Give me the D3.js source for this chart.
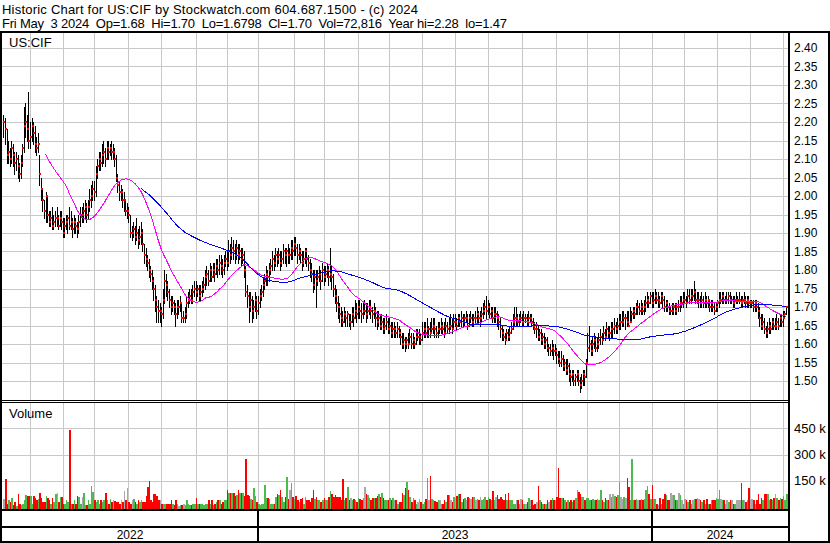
<!DOCTYPE html>
<html><head><meta charset="utf-8">
<script src="https://cdn.jsdelivr.net/npm/d3@7"></script>
<style>
html,body{margin:0;padding:0;background:#fff;}
svg{display:block;font-family:"Liberation Sans",Arial,sans-serif;}
</style></head><body>
<svg id="chart" width="830" height="543"></svg>
<script>
const titleLines = [
  "Historic Chart for US:CIF by Stockwatch.com 604.687.1500 - (c) 2024",
  "Fri May  3 2024  Op=1.68  Hi=1.70  Lo=1.6798  Cl=1.70  Vol=72,816  Year hi=2.28  lo=1.47"
];
const symbolLabel = "US:CIF";
const volumeLabel = "Volume";

const closes = [
2.20,2.18,2.11,2.12,2.10,2.13,2.11,2.09,2.10,2.08,
2.06,2.09,2.13,2.19,2.20,2.18,2.15,2.16,2.19,2.17,
2.14,2.13,2.14,2.06,2.02,1.99,1.96,2.00,1.95,1.93,
1.94,1.92,1.93,1.94,1.94,1.92,1.94,1.93,1.90,1.92,
1.93,1.94,1.92,1.93,1.91,1.93,1.92,1.91,1.93,1.95,
1.95,1.96,1.97,1.95,1.97,1.99,2.00,2.02,2.01,2.06,
2.08,2.10,2.09,2.11,2.12,2.10,2.13,2.12,2.13,2.12,
2.12,2.10,2.05,2.03,2.01,2.01,1.99,1.99,1.96,1.96,
1.95,1.90,1.90,1.91,1.89,1.90,1.88,1.89,1.90,1.87,
1.84,1.83,1.82,1.80,1.79,1.77,1.75,1.72,1.70,1.69,
1.69,1.68,1.72,1.77,1.76,1.74,1.72,1.70,1.71,1.70,
1.68,1.70,1.70,1.71,1.67,1.67,1.68,1.71,1.72,1.73,
1.72,1.74,1.75,1.74,1.75,1.73,1.74,1.75,1.76,1.78,
1.79,1.77,1.80,1.78,1.80,1.79,1.81,1.80,1.82,1.81,
1.80,1.82,1.83,1.82,1.85,1.84,1.86,1.85,1.84,1.86,
1.84,1.85,1.83,1.84,1.80,1.74,1.73,1.70,1.72,1.69,
1.70,1.72,1.69,1.71,1.73,1.74,1.76,1.77,1.79,1.78,
1.80,1.81,1.83,1.82,1.84,1.83,1.84,1.82,1.83,1.85,
1.84,1.85,1.84,1.84,1.86,1.85,1.87,1.86,1.84,1.85,
1.84,1.82,1.83,1.85,1.83,1.82,1.80,1.79,1.76,1.78,
1.77,1.78,1.79,1.77,1.80,1.78,1.79,1.80,1.78,1.79,
1.78,1.75,1.73,1.71,1.70,1.68,1.67,1.66,1.68,1.67,
1.68,1.66,1.66,1.68,1.67,1.69,1.68,1.70,1.69,1.68,
1.69,1.69,1.68,1.69,1.70,1.69,1.68,1.69,1.67,1.66,
1.67,1.65,1.66,1.64,1.65,1.66,1.64,1.65,1.63,1.64,
1.64,1.63,1.64,1.63,1.62,1.60,1.61,1.60,1.61,1.60,
1.62,1.60,1.61,1.60,1.62,1.62,1.62,1.61,1.63,1.64,
1.63,1.64,1.64,1.63,1.64,1.65,1.64,1.63,1.64,1.64,
1.65,1.64,1.63,1.65,1.64,1.65,1.65,1.64,1.66,1.66,
1.65,1.67,1.66,1.67,1.66,1.67,1.67,1.65,1.67,1.67,
1.66,1.67,1.67,1.68,1.67,1.67,1.68,1.69,1.70,1.69,
1.70,1.68,1.69,1.67,1.68,1.68,1.67,1.66,1.64,1.63,
1.62,1.61,1.63,1.62,1.63,1.64,1.66,1.67,1.67,1.66,
1.67,1.67,1.66,1.67,1.67,1.66,1.67,1.67,1.66,1.65,
1.64,1.64,1.62,1.63,1.61,1.62,1.60,1.61,1.59,1.59,
1.58,1.59,1.58,1.58,1.57,1.56,1.55,1.56,1.54,1.55,
1.53,1.54,1.52,1.51,1.52,1.50,1.51,1.52,1.50,1.49,
1.50,1.52,1.51,1.55,1.59,1.60,1.58,1.60,1.61,1.59,
1.60,1.61,1.62,1.61,1.63,1.62,1.64,1.63,1.63,1.64,
1.64,1.65,1.64,1.65,1.66,1.66,1.66,1.67,1.67,1.66,
1.65,1.66,1.68,1.69,1.68,1.70,1.70,1.69,1.70,1.69,
1.70,1.71,1.72,1.71,1.73,1.71,1.72,1.73,1.72,1.72,
1.71,1.73,1.72,1.70,1.71,1.70,1.69,1.69,1.69,1.70,
1.69,1.70,1.70,1.71,1.71,1.72,1.72,1.71,1.73,1.72,
1.73,1.73,1.74,1.72,1.72,1.72,1.71,1.72,1.71,1.72,
1.71,1.72,1.70,1.71,1.70,1.69,1.70,1.71,1.72,1.72,
1.73,1.72,1.72,1.72,1.73,1.72,1.72,1.71,1.72,1.72,
1.72,1.72,1.71,1.72,1.72,1.71,1.72,1.71,1.71,1.71,
1.70,1.71,1.70,1.69,1.67,1.65,1.66,1.64,1.63,1.64,
1.65,1.64,1.66,1.65,1.65,1.66,1.65,1.67,1.66,1.67,1.68,1.70
];
const highs = [
2.22,2.21,2.18,2.15,2.13,2.15,2.14,2.12,2.12,2.11,
2.09,2.11,2.14,2.24,2.25,2.22,2.28,2.20,2.21,2.20,
2.19,2.16,2.17,2.11,2.05,2.02,1.99,2.01,2.00,1.96,
1.96,1.97,1.95,1.96,1.97,1.95,1.96,1.96,1.94,1.94,
1.95,1.95,1.97,1.96,1.94,1.95,1.94,1.93,1.95,1.97,
1.97,1.98,1.99,1.98,1.99,2.02,2.03,2.04,2.04,2.08,
2.10,2.12,2.12,2.14,2.15,2.13,2.15,2.15,2.14,2.15,
2.14,2.13,2.11,2.06,2.04,2.03,2.02,2.01,1.99,1.98,
1.97,1.95,1.92,1.93,1.92,1.94,1.91,1.92,1.93,1.91,
1.87,1.86,1.84,1.83,1.81,1.80,1.78,1.76,1.73,1.72,
1.71,1.70,1.75,1.80,1.79,1.77,1.75,1.73,1.73,1.72,
1.71,1.72,1.72,1.73,1.71,1.69,1.70,1.73,1.74,1.75,
1.75,1.76,1.77,1.77,1.76,1.76,1.76,1.77,1.78,1.80,
1.81,1.80,1.82,1.81,1.82,1.82,1.83,1.83,1.84,1.84,
1.83,1.84,1.85,1.85,1.88,1.87,1.89,1.88,1.87,1.88,
1.87,1.87,1.86,1.86,1.85,1.81,1.76,1.74,1.74,1.73,
1.72,1.74,1.73,1.73,1.75,1.76,1.78,1.79,1.81,1.80,
1.82,1.83,1.85,1.84,1.86,1.85,1.86,1.85,1.85,1.87,
1.86,1.86,1.87,1.86,1.88,1.88,1.89,1.89,1.87,1.87,
1.86,1.85,1.85,1.86,1.86,1.84,1.83,1.82,1.80,1.80,
1.80,1.80,1.81,1.80,1.82,1.81,1.81,1.82,1.81,1.86,
1.81,1.79,1.76,1.75,1.73,1.71,1.70,1.69,1.70,1.69,
1.69,1.68,1.68,1.70,1.70,1.72,1.71,1.72,1.72,1.71,
1.71,1.72,1.71,1.71,1.72,1.72,1.70,1.71,1.70,1.69,
1.69,1.68,1.68,1.67,1.67,1.68,1.67,1.67,1.66,1.66,
1.66,1.65,1.66,1.65,1.64,1.63,1.63,1.62,1.62,1.63,
1.64,1.63,1.63,1.62,1.64,1.64,1.64,1.63,1.66,1.66,
1.66,1.67,1.65,1.66,1.67,1.67,1.67,1.65,1.66,1.66,
1.67,1.66,1.66,1.67,1.66,1.67,1.68,1.67,1.68,1.68,
1.67,1.68,1.68,1.69,1.68,1.68,1.69,1.68,1.68,1.69,
1.68,1.68,1.69,1.70,1.69,1.69,1.70,1.71,1.72,1.73,
1.72,1.71,1.70,1.70,1.70,1.70,1.69,1.68,1.67,1.65,
1.64,1.63,1.64,1.64,1.65,1.66,1.68,1.70,1.70,1.68,
1.68,1.69,1.68,1.69,1.68,1.68,1.69,1.68,1.68,1.67,
1.66,1.66,1.65,1.64,1.64,1.63,1.63,1.62,1.62,1.60,
1.60,1.61,1.60,1.60,1.59,1.58,1.58,1.58,1.57,1.56,
1.56,1.56,1.55,1.53,1.53,1.53,1.52,1.53,1.53,1.51,
1.52,1.53,1.53,1.56,1.63,1.65,1.61,1.62,1.63,1.62,
1.62,1.63,1.64,1.63,1.65,1.64,1.66,1.65,1.65,1.66,
1.66,1.67,1.66,1.67,1.68,1.68,1.69,1.69,1.68,1.69,
1.69,1.70,1.69,1.70,1.70,1.71,1.72,1.71,1.72,1.71,
1.72,1.73,1.74,1.73,1.74,1.74,1.74,1.75,1.74,1.74,
1.73,1.74,1.74,1.73,1.72,1.72,1.71,1.70,1.71,1.71,
1.71,1.71,1.72,1.73,1.73,1.74,1.74,1.73,1.75,1.75,
1.75,1.75,1.77,1.75,1.74,1.74,1.73,1.74,1.73,1.74,
1.73,1.73,1.72,1.72,1.72,1.71,1.71,1.72,1.74,1.74,
1.74,1.74,1.73,1.74,1.74,1.74,1.73,1.73,1.73,1.74,
1.73,1.74,1.73,1.73,1.74,1.73,1.73,1.73,1.72,1.72,
1.72,1.72,1.72,1.71,1.70,1.68,1.68,1.67,1.65,1.66,
1.67,1.66,1.67,1.67,1.67,1.68,1.67,1.68,1.68,1.69,1.69,1.70
];
const lows = [
2.16,2.14,2.09,2.09,2.08,2.09,2.08,2.06,2.07,2.05,
2.04,2.05,2.08,2.12,2.16,2.15,2.13,2.13,2.15,2.14,
2.12,2.11,2.12,2.03,1.99,1.96,1.94,1.93,1.93,1.92,
1.92,1.91,1.91,1.92,1.92,1.91,1.92,1.91,1.89,1.89,
1.91,1.90,1.91,1.91,1.89,1.90,1.90,1.89,1.90,1.92,
1.93,1.93,1.94,1.93,1.94,1.96,1.97,1.99,1.99,2.00,
2.05,2.07,2.07,2.08,2.09,2.08,2.10,2.10,2.11,2.10,
2.10,2.08,2.04,2.01,1.99,1.99,1.97,1.96,1.95,1.94,
1.93,1.89,1.88,1.89,1.87,1.88,1.86,1.87,1.87,1.85,
1.82,1.81,1.80,1.78,1.77,1.75,1.72,1.69,1.66,1.66,
1.66,1.65,1.67,1.71,1.73,1.72,1.70,1.68,1.69,1.68,
1.65,1.67,1.68,1.69,1.66,1.66,1.66,1.67,1.70,1.71,
1.71,1.71,1.73,1.72,1.73,1.72,1.72,1.73,1.74,1.75,
1.76,1.76,1.77,1.77,1.78,1.77,1.79,1.78,1.79,1.79,
1.78,1.79,1.81,1.80,1.81,1.82,1.83,1.83,1.82,1.83,
1.82,1.83,1.81,1.82,1.78,1.73,1.70,1.66,1.69,1.66,
1.67,1.69,1.67,1.68,1.70,1.72,1.73,1.75,1.76,1.76,
1.77,1.79,1.80,1.80,1.81,1.81,1.82,1.80,1.81,1.82,
1.82,1.81,1.82,1.82,1.83,1.83,1.84,1.84,1.82,1.83,
1.82,1.80,1.81,1.82,1.81,1.80,1.78,1.77,1.74,1.75,
1.70,1.76,1.77,1.75,1.77,1.76,1.77,1.78,1.76,1.77,
1.75,1.73,1.71,1.69,1.67,1.66,1.65,1.65,1.66,1.65,
1.65,1.65,1.64,1.66,1.65,1.67,1.66,1.67,1.67,1.66,
1.67,1.68,1.66,1.67,1.68,1.67,1.66,1.67,1.65,1.64,
1.65,1.64,1.64,1.63,1.63,1.64,1.63,1.63,1.62,1.62,
1.62,1.62,1.62,1.62,1.60,1.59,1.59,1.58,1.59,1.59,
1.60,1.59,1.59,1.59,1.60,1.61,1.60,1.60,1.61,1.62,
1.62,1.62,1.62,1.62,1.63,1.63,1.62,1.62,1.62,1.63,
1.63,1.63,1.62,1.63,1.63,1.63,1.64,1.63,1.64,1.65,
1.64,1.65,1.65,1.65,1.65,1.65,1.66,1.64,1.65,1.66,
1.65,1.65,1.66,1.66,1.66,1.65,1.66,1.67,1.68,1.67,
1.68,1.67,1.67,1.66,1.66,1.66,1.65,1.64,1.62,1.61,
1.61,1.60,1.61,1.61,1.61,1.63,1.64,1.65,1.65,1.65,
1.65,1.66,1.65,1.65,1.66,1.65,1.65,1.66,1.65,1.64,
1.63,1.62,1.61,1.61,1.60,1.60,1.59,1.59,1.58,1.57,
1.57,1.57,1.56,1.57,1.55,1.55,1.54,1.54,1.53,1.53,
1.52,1.52,1.50,1.49,1.50,1.49,1.49,1.50,1.49,1.47,
1.48,1.49,1.49,1.51,1.55,1.58,1.57,1.57,1.59,1.58,
1.58,1.59,1.60,1.60,1.61,1.61,1.62,1.62,1.61,1.62,
1.62,1.63,1.63,1.63,1.64,1.64,1.65,1.65,1.64,1.65,
1.65,1.66,1.66,1.67,1.67,1.68,1.68,1.68,1.68,1.68,
1.68,1.69,1.70,1.70,1.71,1.70,1.70,1.71,1.71,1.70,
1.70,1.71,1.70,1.69,1.69,1.69,1.68,1.68,1.68,1.68,
1.68,1.68,1.69,1.69,1.70,1.70,1.71,1.70,1.71,1.71,
1.71,1.72,1.72,1.71,1.71,1.70,1.70,1.70,1.70,1.70,
1.70,1.70,1.69,1.69,1.69,1.68,1.69,1.69,1.70,1.71,
1.71,1.71,1.71,1.71,1.71,1.71,1.71,1.70,1.70,1.71,
1.71,1.71,1.70,1.70,1.71,1.70,1.70,1.70,1.70,1.70,
1.69,1.69,1.69,1.67,1.65,1.64,1.64,1.63,1.62,1.62,
1.63,1.63,1.64,1.64,1.64,1.64,1.64,1.65,1.65,1.65,1.67,1.68
];
// volume in thousands of shares
const volumes = [
43,160,20,39,30,49,10,30,5,77,
20,10,20,39,68,62,62,62,20,62,
54,39,43,81,49,30,30,62,49,39,
20,49,30,74,81,30,58,58,20,16,
39,30,440,20,16,39,20,62,58,20,
58,81,10,10,39,16,119,87,39,30,
39,20,39,30,39,81,39,20,43,30,
39,34,30,30,20,39,30,93,39,106,
30,20,39,43,30,20,39,30,39,30,
30,62,112,148,39,30,74,77,62,39,
39,20,16,20,16,20,16,39,16,10,
39,16,5,10,10,16,10,39,16,10,
14,16,16,49,20,16,16,20,10,16,
16,39,16,39,10,20,30,39,39,20,
30,39,39,100,81,81,81,81,62,68,
100,81,81,81,62,275,68,62,43,39,
106,62,30,20,10,16,20,125,49,54,
43,20,16,20,58,77,68,96,58,30,
58,169,43,96,138,58,43,62,39,30,
43,49,20,58,39,39,30,49,96,43,
58,39,39,30,39,49,39,39,58,93,
74,58,68,58,58,58,39,160,39,49,
112,39,49,39,43,39,30,49,43,39,
49,112,77,68,49,39,54,54,54,62,
77,58,81,49,39,39,39,49,39,49,
39,39,16,30,30,81,68,106,144,100,
58,30,54,39,16,30,43,30,16,30,
43,167,39,177,45,39,35,30,39,39,
20,16,39,30,68,68,39,30,58,54,
62,74,77,30,43,49,39,58,49,43,
58,58,39,43,39,58,39,43,58,39,
58,43,39,93,39,58,68,43,58,43,
39,77,39,81,39,39,16,20,39,39,
16,45,39,16,20,30,49,39,39,10,
16,30,118,39,30,16,16,20,39,30,
39,54,39,39,58,222,49,54,54,39,
30,39,30,39,30,39,49,100,87,74,
58,58,39,49,54,39,39,43,39,39,
43,39,98,39,30,49,39,39,77,58,
77,62,58,68,145,58,43,58,54,167,
112,39,275,39,39,43,39,39,43,39,
43,100,119,74,43,128,43,43,16,10,
52,16,43,77,68,39,39,81,68,68,
39,39,81,68,39,20,43,39,30,39,
20,39,43,43,49,43,39,30,39,16,
43,20,20,39,39,39,49,43,96,43,
39,39,20,39,30,39,39,16,20,39,
39,39,135,39,39,30,39,106,39,43,
39,20,39,72,16,54,39,77,77,77,
39,43,39,49,77,49,39,49,43,62,39,73
];
// bar index of the first trading day of each month (Jun 2022 .. May 2024)
const monthStarts = [17,38,58,80,101,123,143,163,186,205,227,247,268,289,310,332,354,374,394,415,436,457,478,499];
const yearStarts = [163, 415];
const yearLabels = ["2022","2023","2024"];
const priceTicks = [2.40,2.35,2.30,2.25,2.20,2.15,2.10,2.05,2.00,1.95,1.90,1.85,1.80,1.75,1.70,1.65,1.60,1.55,1.50];
const volTicks = [150,300,450];
const volTickLabels = ["150 k","300 k","450 k"];
const maPeriods = [28, 89];
const maColors = ["#ff00ff", "#0000ff"];

// ---------- layout ----------
const svg = d3.select("#chart");
const plotL = 2, plotR = 788;
const priceTop = 33, priceBottom = 400, volTop = 403, volBottom = 509;

const n = closes.length;
const xs = d3.scaleLinear().domain([0, n - 1]).range([3.45, 3.45 + 1.5616 * (n - 1)]);
const y = d3.scaleLinear().domain([1.50, 2.40]).range([381, 48]);
const yv = d3.scaleLinear().domain([0, 450]).range([507, 428.4]);
const px = i => Math.round(xs(i));

svg.append("rect").attr("width", 830).attr("height", 543).attr("fill", "#fff");

// title (widths matched to the reference lines)
const titleY = [13.5, 28], titleLen = [416, 505];
svg.selectAll("text.title").data(titleLines).enter().append("text")
  .attr("class", "title")
  .attr("x", 2).attr("y", (d, i) => titleY[i])
  .attr("font-size", 13).attr("fill", "#000")
  .attr("textLength", (d, i) => titleLen[i]).attr("lengthAdjust", "spacing")
  .style("white-space", "pre")
  .text(d => d);

// grid
const grid = svg.append("g").attr("stroke", "#c8c8c8").attr("stroke-width", 1).attr("shape-rendering", "crispEdges");
grid.selectAll("line.hp").data(priceTicks).enter().append("line")
  .attr("x1", plotL).attr("x2", plotR)
  .attr("y1", d => Math.round(y(d)) + 0.5).attr("y2", d => Math.round(y(d)) + 0.5);
grid.selectAll("line.vp").data(monthStarts).enter().append("line")
  .attr("x1", d => px(d) + 0.5).attr("x2", d => px(d) + 0.5)
  .attr("y1", priceTop).attr("y2", priceBottom);
grid.selectAll("line.hv").data(volTicks).enter().append("line")
  .attr("x1", plotL).attr("x2", plotR)
  .attr("y1", d => Math.round(yv(d)) + 0.5).attr("y2", d => Math.round(yv(d)) + 0.5);
grid.selectAll("line.vv").data(monthStarts).enter().append("line")
  .attr("x1", d => px(d) + 0.5).attr("x2", d => px(d) + 0.5)
  .attr("y1", volTop).attr("y2", volBottom);

// volume bars
const volColor = i => {
  if (i === 0 || closes[i] === closes[i - 1]) return "#a8a8a8";
  return closes[i] > closes[i - 1] ? "#4cbb4c" : "#ff0000";
};
svg.append("g").attr("shape-rendering", "crispEdges")
  .selectAll("rect").data(volumes).enter().append("rect")
  .attr("x", (d, i) => px(i))
  .attr("width", (d, i) => Math.max(1, (i < n - 1 ? px(i + 1) : px(i) + 2) - px(i)))
  .attr("y", d => Math.round(yv(d)))
  .attr("height", d => volBottom - Math.round(yv(d)))
  .attr("fill", (d, i) => volColor(i));

// price bars
const bars = svg.append("g").attr("shape-rendering", "crispEdges");
bars.selectAll("rect.hl").data(closes).enter().append("rect")
  .attr("x", (d, i) => px(i))
  .attr("y", (d, i) => Math.round(y(Math.max(highs[i], d))))
  .attr("width", 1)
  .attr("height", (d, i) => Math.max(1, Math.round(y(Math.min(lows[i], d))) - Math.round(y(Math.max(highs[i], d))) + 1))
  .attr("fill", "#000");
bars.selectAll("rect.cl").data(closes).enter().append("rect")
  .attr("x", (d, i) => px(i))
  .attr("y", d => Math.round(y(d)) - 1)
  .attr("width", 2).attr("height", 2)
  .attr("fill", "#ff0000");

// moving averages
maPeriods.forEach((p, k) => {
  const pts = [];
  for (let i = p - 1; i < n; i++) {
    pts.push([i, d3.mean(closes.slice(i - p + 1, i + 1))]);
  }
  svg.append("path").datum(pts)
    .attr("fill", "none").attr("stroke", maColors[k]).attr("stroke-width", 1)
    .attr("shape-rendering", "crispEdges")
    .attr("d", d3.line().x(d => xs(d[0])).y(d => y(d[1])));
});

// frame
const frame = svg.append("g").attr("fill", "#000").attr("shape-rendering", "crispEdges");
frame.append("rect").attr("x", 0).attr("y", 31).attr("width", 830).attr("height", 2);
frame.append("rect").attr("x", 0).attr("y", 31).attr("width", 2).attr("height", 512);
frame.append("rect").attr("x", 828).attr("y", 31).attr("width", 2).attr("height", 512);
frame.append("rect").attr("x", 788).attr("y", 31).attr("width", 2).attr("height", 512);
frame.append("rect").attr("x", 0).attr("y", 400).attr("width", 790).attr("height", 1);
frame.append("rect").attr("x", 0).attr("y", 402).attr("width", 790).attr("height", 1);
frame.append("rect").attr("x", 0).attr("y", 509).attr("width", 790).attr("height", 2);
frame.append("rect").attr("x", 0).attr("y", 526).attr("width", 790).attr("height", 2);
frame.append("rect").attr("x", 0).attr("y", 541).attr("width", 830).attr("height", 2);
frame.selectAll("rect.ys").data(yearStarts).enter().append("rect")
  .attr("x", d => px(d) - 1).attr("y", 511).attr("width", 2).attr("height", 30);

// axes labels
const yAxis = d3.axisRight(y).tickValues(priceTicks).tickFormat(d3.format(".2f")).tickSize(0).tickPadding(0);
const ga = svg.append("g").attr("transform", "translate(794,0)").call(yAxis);
ga.select(".domain").remove();
ga.selectAll("text").attr("font-size", 12).attr("font-family", "Liberation Sans, Arial, sans-serif").attr("fill", "#000");

const vAxis = d3.axisRight(yv).tickValues(volTicks).tickFormat((d, i) => volTickLabels[i]).tickSize(0).tickPadding(0);
const gv = svg.append("g").attr("transform", "translate(794,0)").call(vAxis);
gv.select(".domain").remove();
gv.selectAll("text").attr("font-size", 13).attr("font-family", "Liberation Sans, Arial, sans-serif").attr("fill", "#000");

svg.append("text").attr("x", 9).attr("y", 46.5).attr("font-size", 13).text(symbolLabel);
svg.append("text").attr("x", 9).attr("y", 418).attr("font-size", 13).text(volumeLabel);

// year labels
const bounds = [plotL].concat(yearStarts.map(px)).concat([plotR]);
svg.selectAll("text.yr").data(yearLabels).enter().append("text")
  .attr("x", (d, i) => (bounds[i] + bounds[i + 1]) / 2)
  .attr("y", 539).attr("font-size", 12).attr("text-anchor", "middle")
  .text(d => d);
</script>
</body></html>
